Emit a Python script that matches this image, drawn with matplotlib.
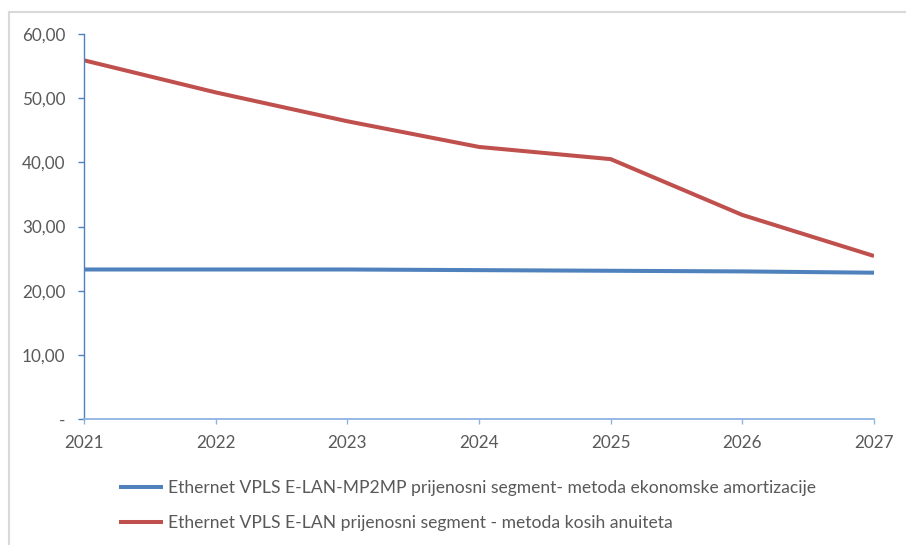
import matplotlib.pyplot as plt
from matplotlib.lines import Line2D
from matplotlib.ticker import FuncFormatter

# podaci
godine = [2021, 2022, 2023, 2024, 2025, 2026, 2027]
ekonomska_amortizacija = [23.3, 23.3, 23.3, 23.2, 23.1, 23.0, 22.8]
kosi_anuiteti = [55.9, 50.9, 46.4, 42.4, 40.5, 31.8, 25.4]
naziv_plava = 'Ethernet VPLS E-LAN-MP2MP prijenosni segment- metoda ekonomske amortizacije'
naziv_crvena = 'Ethernet VPLS E-LAN prijenosni segment - metoda kosih anuiteta'
y_oznake = [0, 10, 20, 30, 40, 50, 60]

plt.rcParams['font.family'] = ['Lato', 'DejaVu Sans']
siva = '#595959'

fig = plt.figure(figsize=(9.06, 5.45), dpi=100)
ax = fig.add_axes([84 / 906, 1 - 419 / 545, (874 - 84) / 906, (419 - 34) / 545])

ax.plot(godine, ekonomska_amortizacija, color='#4f81bd', linewidth=2.9,
        solid_capstyle='butt', label=naziv_plava)
ax.plot(godine, kosi_anuiteti, color='#c0504d', linewidth=2.9,
        solid_capstyle='butt', label=naziv_crvena)

ax.set_xlim(2021, 2027)
ax.set_ylim(0, 60)
ax.set_xticks(godine)
ax.set_yticks(y_oznake)


def format_y(v, pos):
    if v == 0:
        return '-'
    return f'{v:.2f}'.replace('.', ',')


ax.yaxis.set_major_formatter(FuncFormatter(format_y))

for s in ['top', 'right']:
    ax.spines[s].set_visible(False)
ax.spines['left'].set_color('#4f81bd')
ax.spines['bottom'].set_color('#8eb4e3')
ax.spines['left'].set_linewidth(1.0)
ax.spines['bottom'].set_linewidth(1.3)

ax.tick_params(axis='y', colors='#4f81bd', labelcolor=siva, labelsize=12.3,
               length=4.3, width=1, pad=9)
ax.tick_params(axis='x', colors='#8eb4e3', labelcolor=siva, labelsize=12.3,
               length=3.6, width=1, pad=8)

# legenda ispod grafa
fig.legend(loc='upper left', bbox_to_anchor=(103 / 906, 1 - 464 / 545),
           frameon=False, fontsize=12.6, labelcolor=siva, handlelength=2.5,
           handletextpad=0.3, labelspacing=1.1)

# okvir
fig.add_artist(Line2D([9 / 906, 1], [1 - 12 / 545, 1 - 12 / 545],
                      transform=fig.transFigure, color='#d9d9d9', linewidth=1.5))
fig.add_artist(Line2D([9 / 906, 9 / 906], [0, 1 - 12 / 545],
                      transform=fig.transFigure, color='#d9d9d9', linewidth=1.5))

plt.savefig('out.png', dpi=100)
